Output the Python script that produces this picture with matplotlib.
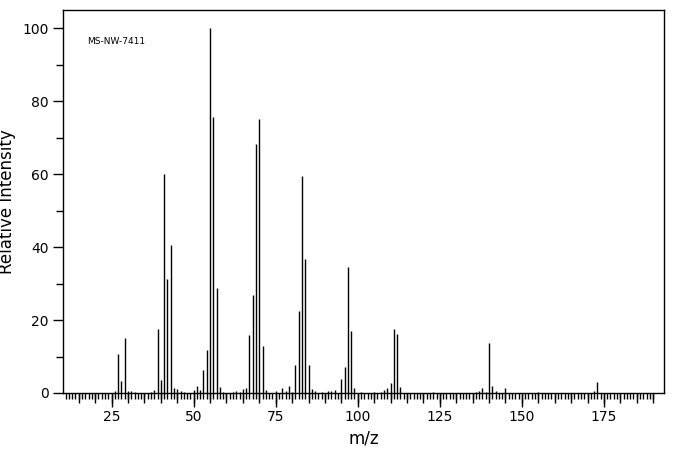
import numpy as np
import matplotlib.pyplot as plt
from matplotlib.ticker import MultipleLocator

# peaks: m/z and relative intensity
mz = [26, 27, 28, 29, 30, 31, 32, 37, 38, 39, 40, 41, 42, 43, 44, 45, 46, 47,
      50, 51, 52, 53, 54, 55, 56, 57, 58, 59, 62, 63, 64, 65, 66, 67, 68, 69, 70,
      71, 72, 75, 77, 78, 79, 80, 81, 82, 83, 84, 85, 86, 87, 89, 91, 92, 93,
      95, 96, 97, 98, 99, 101, 105, 107, 108, 109, 110, 111, 112, 113, 123,
      136, 137, 138, 139, 140, 141, 142, 145, 155, 172, 173]
intensity = [0.5, 10.8, 3.3, 15.2, 0.6, 0.5, 0.3, 0.3, 0.8, 17.5, 3.6, 60.0,
             31.2, 40.5, 1.4, 1.1, 0.5, 0.3, 0.8, 1.9, 0.8, 6.3, 11.8, 100.0,
             75.8, 28.8, 1.7, 0.4, 0.3, 0.5, 0.4, 1.2, 1.5, 15.9, 27.0, 68.2,
             75.0, 13.0, 0.8, 0.5, 1.3, 0.5, 2.0, 0.4, 7.7, 22.5, 59.5, 36.7,
             7.7, 1.0, 0.5, 0.4, 0.5, 0.5, 0.8, 3.8, 7.1, 34.5, 17.0, 1.5, 0.3,
             0.3, 0.4, 0.8, 1.4, 2.8, 17.5, 16.2, 1.7, 0.3, 0.4, 0.6, 1.4, 0.3,
             13.7, 1.9, 0.5, 1.5, 0.3, 0.5, 3.0]
sample_id = "MS-NW-7411"

fig = plt.figure(figsize=(6.76, 4.55), dpi=100)
ax = fig.add_axes([63 / 676, 62 / 455, 601 / 676, 383 / 455])

ax.vlines(mz, 0, intensity, color='black', linewidth=1.0)

ax.set_xlim(10.2, 193.3)
ax.set_ylim(0, 105)

# x ticks: labels every 25, ticks every 1
ax.xaxis.set_major_locator(MultipleLocator(25))
ax.set_xticks(np.arange(11, 191), minor=True)
ax.tick_params(axis='x', which='major', direction='out', length=10, width=1,
               labelsize=10, pad=2, top=False)
ax.tick_params(axis='x', which='minor', direction='out', length=4, width=1, top=False)

# medium ticks every 5
sec = ax.secondary_xaxis('bottom')
sec.set_xticks(np.arange(15, 191, 5))
sec.tick_params(axis='x', direction='out', length=7, width=1, labelbottom=False)
sec.spines['bottom'].set_visible(False)

# y ticks
ax.set_yticks([0, 20, 40, 60, 80, 100])
ax.yaxis.set_minor_locator(MultipleLocator(10))
ax.tick_params(axis='y', which='major', direction='out', length=7, width=1,
               labelsize=10, right=False)
ax.tick_params(axis='y', which='minor', direction='out', length=5, width=1, right=False)

for s in ax.spines.values():
    s.set_linewidth(1)

ax.set_xlabel("m/z", fontsize=12, labelpad=4)
ax.set_ylabel("Relative Intensity", fontsize=12, labelpad=4)
ax.text(0.04, 0.918, sample_id, transform=ax.transAxes, fontsize=6.5,
        ha='left', va='center')

fig.savefig("out.png", dpi=100)
